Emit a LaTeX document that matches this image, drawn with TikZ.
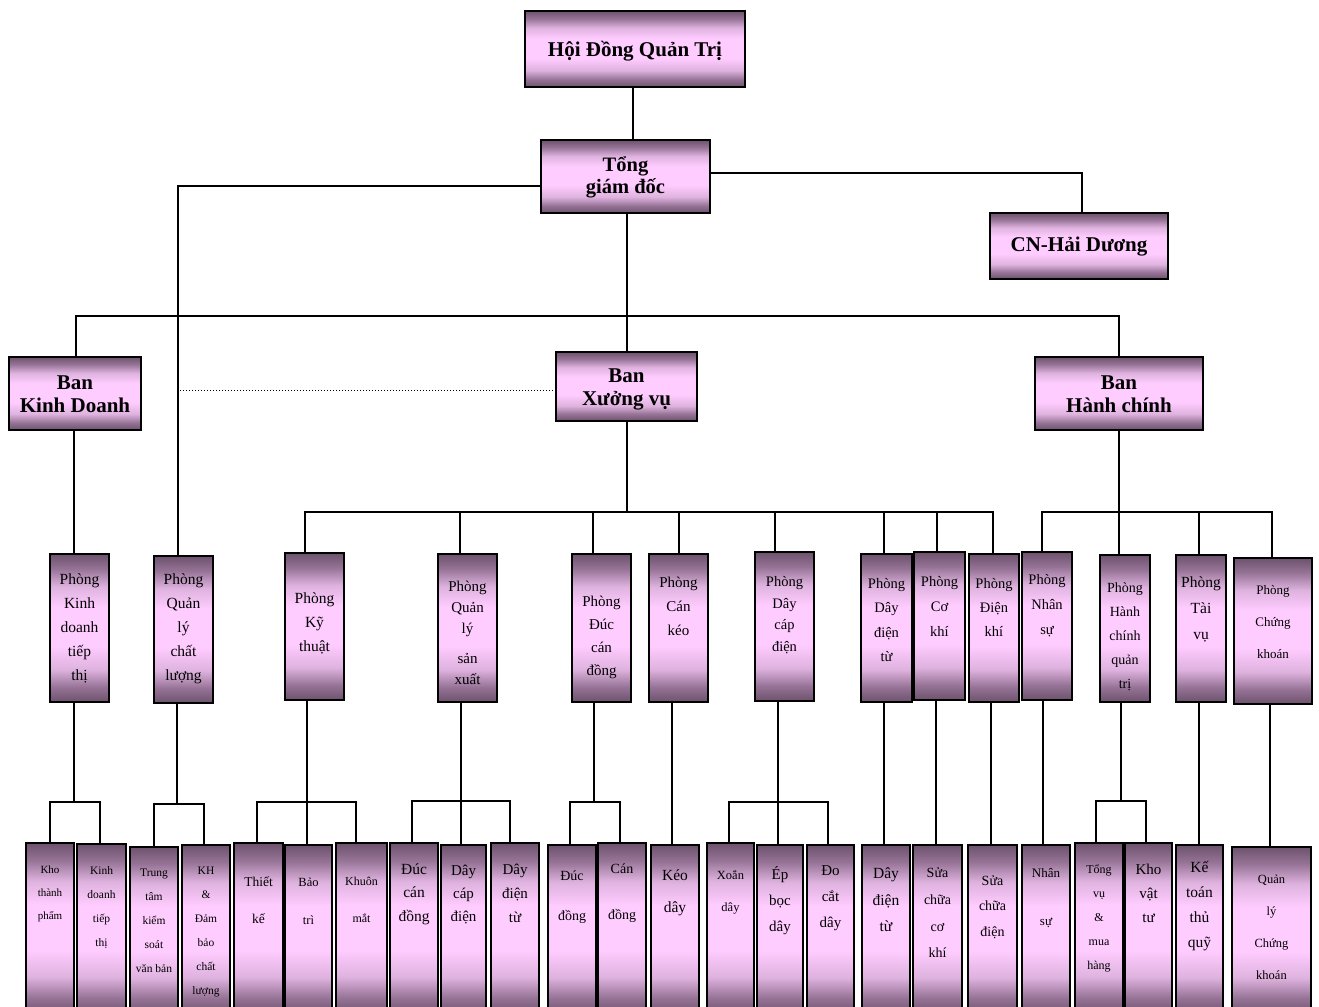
\documentclass[tikz,border=0pt]{standalone}
\usepackage{fontspec}
\setmainfont{Liberation Serif}
\definecolor{bdark}{RGB}{108,82,108}
\definecolor{bmid}{RGB}{150,115,150}
\definecolor{bmid2}{RGB}{222,178,222}
\definecolor{blight}{RGB}{255,204,255}
\pgfdeclareverticalshading{mauve}{100bp}{color(0bp)=(bdark); color(25bp)=(bdark); color(30bp)=(bmid); color(36bp)=(bmid2); color(44bp)=(blight); color(57bp)=(blight); color(64bp)=(bmid2); color(70bp)=(bmid); color(75bp)=(bdark); color(100bp)=(bdark)}
\tikzset{
  bx/.style={draw=black, line width=1.8pt, shade, shading=mauve, inner sep=0pt},
  ln/.style={line width=1.3pt, line cap=rect},
  tb/.style={font=\bfseries\fontsize{21}{23}\selectfont, align=center, inner sep=0pt},
}
\newcommand\ob[5]{\node[bx, minimum width={#4pt-#2pt}, minimum height={#5pt-#3pt}] (#1) at ({(#2+#4)/2},{(#3+#5)/2}) {};}
\newcommand\tx[5]{\node[align=center, inner sep=0pt, font=\fontsize{#3}{#4}\selectfont] (#1-t) at (#1.center |- 0,#2) {#5};}
\begin{document}
\begin{tikzpicture}[x=1pt,y=-1pt]
\useasboundingbox (0,0) rectangle (1319,1006);
\fill[white] (0,0) rectangle (1319,1006);
\clip (0,0) rectangle (1319,1006);

% ---------- boxes ----------
\ob{hdqt}{525}{11}{745}{87}
\ob{tgd}{541}{140}{710}{213}
\ob{cn}{990}{213}{1168}{279}
\ob{bkd}{9}{357}{141}{430}
\ob{bxv}{556}{352}{697}{421}
\ob{bhc}{1035}{357}{1203}{430}

\ob{pkd}{50}{554}{109}{702}
\ob{pcl}{154}{556}{213}{703}
\ob{pkt}{285}{553}{344}{700}
\ob{psx}{438}{554}{497}{702}
\ob{pdc}{572}{554}{631}{702}
\ob{pck}{649}{554}{708}{702}
\ob{pdcd}{755}{552}{814}{701}
\ob{pddt}{861}{554}{912}{702}
\ob{pco}{914}{552}{965}{700}
\ob{pdk}{969}{554}{1019}{702}
\ob{pns}{1022}{552}{1072}{700}
\ob{phc}{1100}{555}{1150}{702}
\ob{ptv}{1176}{555}{1226}{702}
\ob{pchk}{1234}{558}{1312}{704}

\ob{kho}{26}{843}{74}{1015}
\ob{kdtt}{77}{844}{126}{1015}
\ob{ttks}{130}{847}{178}{1015}
\ob{kh}{182}{845}{230}{1015}
\ob{tk}{234}{843}{283}{1015}
\ob{bt}{285}{845}{332}{1015}
\ob{km}{336}{843}{387}{1015}
\ob{dcd}{390}{843}{438}{1015}
\ob{dcdb}{441}{845}{486}{1015}
\ob{ddtb}{491}{843}{539}{1015}
\ob{dd}{548}{845}{596}{1015}
\ob{cd}{598}{843}{646}{1015}
\ob{kd}{651}{845}{699}{1015}
\ob{xd}{707}{843}{754}{1015}
\ob{ebd}{757}{845}{803}{1015}
\ob{dcat}{807}{845}{854}{1015}
\ob{dtu}{862}{845}{910}{1015}
\ob{scck}{913}{845}{962}{1015}
\ob{scd}{968}{845}{1017}{1015}
\ob{ns}{1022}{845}{1070}{1015}
\ob{tvmh}{1075}{843}{1123}{1015}
\ob{kvt}{1125}{843}{1172}{1015}
\ob{ktq}{1176}{845}{1223}{1015}
\ob{qlck}{1232}{847}{1311}{1015}

% ---------- connectors ----------
\coordinate (k1) at (76,316);
\coordinate (k2) at (1119,316);
\coordinate (dotA) at (180,390);
\coordinate (m1) at (627,512);
\coordinate (m2) at (993,512);
\coordinate (h1) at (1119,512);
\coordinate (h2) at (1272,512);

\draw[ln] (hdqt.south -| 633,0) -- (tgd.north -| 633,0);
\draw[ln] (tgd.west |- 0,186) -| (pcl.north -| 178,0);
\draw[ln] (tgd.east |- 0,173) -| (cn.north -| 1082,0);
\draw[ln] (tgd.south -| 627,0) -- (bxv.north -| 627,0);
\draw[ln] (bkd.north -| k1) |- (k2) -- (bhc.north -| k2);
\draw[line width=1pt, dotted] (dotA) -- (bxv.west |- dotA);
\draw[ln] (bkd.south -| 74,0) -- (pkd.north -| 74,0);

\draw[ln] (bxv.south -| m1) -- (m1);
\draw[ln] (pkt.north -| 305,0) |- (m2) -- (pdk.north -| m2);
\foreach \n/\x in {psx/460, pdc/593, pck/679, pdcd/775, pddt/884, pco/937}
  \draw[ln] (\n.north -| \x,0) -- (\x,512);

\draw[ln] (bhc.south -| h1) -- (h1);
\draw[ln] (pns.north -| 1042,0) |- (h2) -- (pchk.north -| h2);
\foreach \n/\x in {phc/1119, ptv/1199}
  \draw[ln] (\n.north -| \x,0) -- (\x,512);

% lower level
\draw[ln] (pkd.south -| 74,0) -- (74,802);
\draw[ln] (kho.north -| 50,0) |- (100,802) -- (kdtt.north -| 100,0);
\draw[ln] (pcl.south -| 177,0) -- (177,804);
\draw[ln] (ttks.north -| 154,0) |- (204,804) -- (kh.north -| 204,0);
\draw[ln] (pkt.south -| 307,0) -- (bt.north -| 307,0);
\draw[ln] (tk.north -| 257,0) |- (356,802) -- (km.north -| 356,0);
\draw[ln] (psx.south -| 461,0) -- (dcdb.north -| 461,0);
\draw[ln] (dcd.north -| 412,0) |- (510,801) -- (ddtb.north -| 510,0);
\draw[ln] (pdc.south -| 594,0) -- (594,802);
\draw[ln] (dd.north -| 570,0) |- (620,802) -- (cd.north -| 620,0);
\draw[ln] (pck.south -| 672,0) -- (kd.north -| 672,0);
\draw[ln] (pdcd.south -| 778,0) -- (ebd.north -| 778,0);
\draw[ln] (xd.north -| 729,0) |- (828,802) -- (dcat.north -| 828,0);
\draw[ln] (pddt.south -| 884,0) -- (dtu.north -| 884,0);
\draw[ln] (pco.south -| 936,0) -- (scck.north -| 936,0);
\draw[ln] (pdk.south -| 991,0) -- (scd.north -| 991,0);
\draw[ln] (pns.south -| 1043,0) -- (ns.north -| 1043,0);
\draw[ln] (phc.south -| 1121,0) -- (1121,801);
\draw[ln] (tvmh.north -| 1096,0) |- (1146,801) -- (kvt.north -| 1146,0);
\draw[ln] (ptv.south -| 1199,0) -- (ktq.north -| 1199,0);
\draw[ln] (pchk.south -| 1270,0) -- (qlck.north -| 1270,0);

% ---------- texts ----------
\node[tb] (hdqt-t) at (hdqt.center |- 0,51) {Hội Đồng Quản Trị};
\node[tb, font=\bfseries\fontsize{20.5}{22}\selectfont] (tgd-t) at (tgd.center |- 0,177) {Tổng\\giám đốc};
\node[tb] (cn-t) at (cn.center |- 0,247) {CN-Hải Dương};
\node[tb] (bkd-t) at (bkd.center |- 0,394) {Ban\\Kinh Doanh};
\node[tb] (bxv-t) at (bxv.center |- 0,389) {Ban\\Xưởng vụ};
\node[tb] (bhc-t) at (bhc.center |- 0,394) {Ban\\Hành chính};

\tx{pkd}{628}{15.5}{24}{Phòng\\Kinh\\doanh\\tiếp\\thị}
\tx{pcl}{629}{15.5}{24}{Phòng\\Quản\\lý\\chất\\lượng}
\tx{pkt}{623}{15.5}{24}{Phòng\\Kỹ\\thuật}
\tx{psx}{633}{15}{21}{Phòng\\Quản\\lý\\[9pt]sản\\xuất}
\tx{pdc}{637}{15}{23}{Phòng\\Đúc\\cán\\đồng}
\tx{pck}{606}{15}{24}{Phòng\\Cán\\kéo}
\tx{pdcd}{615}{14.5}{21.5}{Phòng\\Dây\\cáp\\điện}
\tx{pddt}{620}{14.5}{24.5}{Phòng\\Dây\\điện\\từ}
\tx{pco}{606}{14.5}{25}{Phòng\\Cơ\\khí}
\tx{pdk}{607}{14.5}{24}{Phòng\\Điện\\khí}
\tx{pns}{606}{14.5}{25}{Phòng\\Nhân\\sự}
\tx{phc}{637}{14}{24}{Phòng\\Hành\\chính\\quản\\trị}
\tx{ptv}{609}{15.5}{26}{Phòng\\Tài\\vụ}
\tx{pchk}{622}{13}{32}{Phòng\\Chứng\\khoán}

\tx{kho}{894}{11}{23}{Kho\\thành\\phẩm}
\tx{kdtt}{907}{11.5}{24}{Kinh\\doanh\\tiếp\\thị}
\tx{ttks}{921}{11.5}{24}{Trung\\tâm\\kiểm\\soát\\văn bản}
\tx{kh}{932}{11.5}{24}{KH\\\&\\Đảm\\bảo\\chất\\lượng}
\tx{tk}{900}{13.5}{37}{Thiết\\kế}
\tx{bt}{901}{12.5}{38}{Bảo\\trì}
\tx{km}{900}{12}{37}{Khuôn\\mắt}
\tx{dcd}{894}{15.5}{23.5}{Đúc\\cán\\đồng}
\tx{dcdb}{895}{15}{23}{Dây\\cáp\\điện}
\tx{ddtb}{893}{15}{24}{Dây\\điện\\từ}
\tx{dd}{897}{14}{40}{Đúc\\đồng}
\tx{cd}{893}{14}{46}{Cán\\đồng}
\tx{kd}{893}{15.5}{32}{Kéo\\dây}
\tx{xd}{892}{12.5}{32}{Xoắn\\dây}
\tx{ebd}{901}{15}{26}{Ép\\bọc\\dây}
\tx{dcat}{898}{15}{26}{Đo\\cắt\\dây}
\tx{dtu}{900}{15.5}{26.5}{Dây\\điện\\từ}
\tx{scck}{913}{14}{26.7}{Sửa\\chữa\\cơ\\khí}
\tx{scd}{907}{14}{25.5}{Sửa\\chữa\\điện}
\tx{ns}{898}{13}{48}{Nhân\\sự}
\tx{tvmh}{918}{12}{24}{Tổng\\vụ\\\&\\mua\\hàng}
\tx{kvt}{893}{15}{24}{Kho\\vật\\tư}
\tx{ktq}{906}{15.5}{24.7}{Kế\\toán\\thủ\\quỹ}
\tx{qlck}{927}{12.5}{32}{Quản\\lý\\Chứng\\khoán}
\end{tikzpicture}
\end{document}
